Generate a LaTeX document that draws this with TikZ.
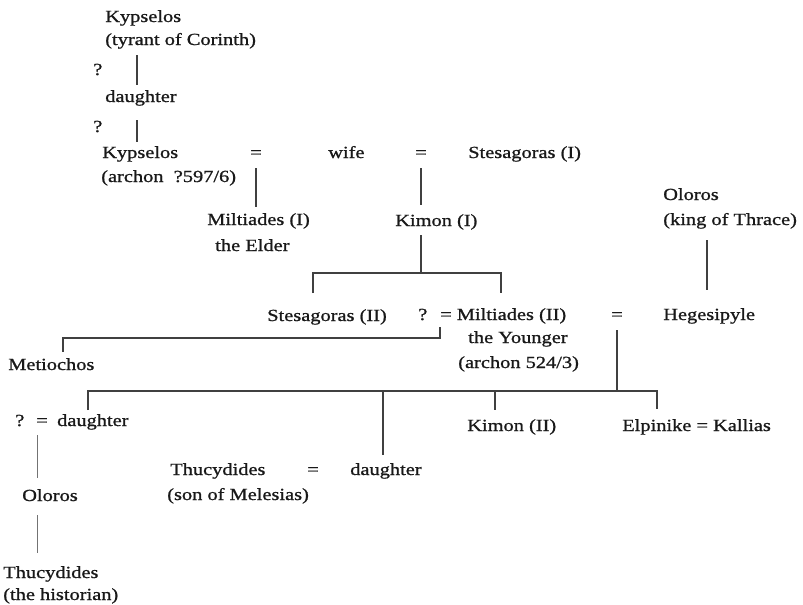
\documentclass[tikz,border=0pt]{standalone}
\usepackage{fontspec}
\setmainfont[FakeStretch=1.2,FakeBold=1]{Liberation Serif}
\tikzset{
  txt/.style={anchor=base west, inner sep=0pt, font=\fontsize{12.75}{15}\selectfont, text=black!90},
  eqs/.style={anchor=base, inner sep=0pt, font=\fontsize{12.75}{15}\selectfont, text=black!90},
  ln/.style={line width=1.1pt, draw=black!75},
  thinln/.style={line width=0.5pt, draw=black!55},
}
\begin{document}
\begin{tikzpicture}[x=0.75pt,y=-0.75pt]
\useasboundingbox (0,0) rectangle (803,604);
% texts
\node[txt] (kyp1) at (105,22) {Kypselos};
\node[txt] (kyp1b) at (105,45) {(tyrant of Corinth)};
\node[txt] (q1) at (93,75) {?};
\node[txt] (dau1) at (105,102) {daughter};
\node[txt] (q2) at (93,132) {?};
\node[txt] (kyp2) at (102,158) {Kypselos};
\node[txt] (kyp2b) at (101,182) {(archon\ \ ?597/6)};
\node[eqs] (eq1) at (256,158) {=};
\node[txt] (wife) at (328,158) {wife};
\node[eqs] (eq2) at (421,158) {=};
\node[txt] (stes1) at (468,158) {Stesagoras (I)};
\node[txt] (milt1) at (207,225) {Miltiades (I)};
\node[txt] (milt1b) at (215,251) {the Elder};
\node[txt] (kim1) at (395,226) {Kimon (I)};
\node[txt] (olo1) at (663,200) {Oloros};
\node[txt] (olo1b) at (663,225) {(king of Thrace)};
\node[txt] (stes2) at (267,321) {Stesagoras (II)};
\node[txt] (q3) at (418,320) {?};
\node[txt] (milt2) at (440,320) {= Miltiades (II)};
\node[txt] (milt2b) at (468,343) {the Younger};
\node[txt] (milt2c) at (458,368) {(archon 524/3)};
\node[eqs] (eq3) at (617,320) {=};
\node[txt] (heg) at (663,320) {Hegesipyle};
\node[txt] (met) at (8,370) {Metiochos};
\node[txt] (dau2) at (15,426) {?\hspace{9pt}=\hspace{7pt}daughter};
\node[txt] (olo2) at (22,501) {Oloros};
\node[txt] (thu1) at (3,578) {Thucydides};
\node[txt] (thu1b) at (3,600) {(the historian)};
\node[txt] (thu2) at (170,475) {Thucydides};
\node[eqs] (eq4) at (313,475) {=};
\node[txt] (dau3) at (350,475) {daughter};
\node[txt] (thu2b) at (167,500) {(son of Melesias)};
\node[txt] (kim2) at (467,431) {Kimon (II)};
\node[txt] (elp) at (622,431) {Elpinike = Kallias};
% connector points
\coordinate (c1a) at (137,55);  \coordinate (c1b) at (137,85);
\coordinate (c2a) at (137,120); \coordinate (c2b) at (137,142);
\coordinate (c3a) at (256,168); \coordinate (c3b) at (256,207);
\coordinate (c4a) at (421,168); \coordinate (c4b) at (421,205);
\coordinate (c5a) at (421,235); \coordinate (c5b) at (421,273);
\coordinate (c5l) at (313,273); \coordinate (c5ld) at (313,293);
\coordinate (c5r) at (501,273); \coordinate (c5rd) at (501,293);
\coordinate (c6a) at (707,240); \coordinate (c6b) at (707,290);
\coordinate (c7a) at (440,327); \coordinate (c7b) at (440,338);
\coordinate (c7c) at (63,338);  \coordinate (c7d) at (63,352);
\coordinate (c8a) at (617,330); \coordinate (c8b) at (617,391);
\coordinate (c9l) at (88,391);  \coordinate (c9ld) at (88,410);
\coordinate (c9r) at (657,391); \coordinate (c9rd) at (657,409);
\coordinate (c9m) at (383,391); \coordinate (c9md) at (383,455);
\coordinate (c9k) at (495,391); \coordinate (c9kd) at (495,410);
\coordinate (c10a) at (37,435); \coordinate (c10b) at (37,478);
\coordinate (c11a) at (37,515); \coordinate (c11b) at (37,553);
% connectors
\draw[ln] (c1a) -- (c1b);
\draw[ln] (c2a) -- (c2b);
\draw[ln] (c3a) -- (c3b);
\draw[ln] (c4a) -- (c4b);
\draw[ln] (c5a) -- (c5b);
\draw[ln] (c5ld) -- (c5l) -- (c5r) -- (c5rd);
\draw[ln] (c6a) -- (c6b);
\draw[ln] (c7a) -- (c7b) -- (c7c) -- (c7d);
\draw[ln] (c8a) -- (c8b);
\draw[ln] (c9ld) -- (c9l) -- (c9r) -- (c9rd);
\draw[ln] (c9m) -- (c9md);
\draw[ln] (c9k) -- (c9kd);
\draw[thinln] (c10a) -- (c10b);
\draw[thinln] (c11a) -- (c11b);
\end{tikzpicture}
\end{document}
